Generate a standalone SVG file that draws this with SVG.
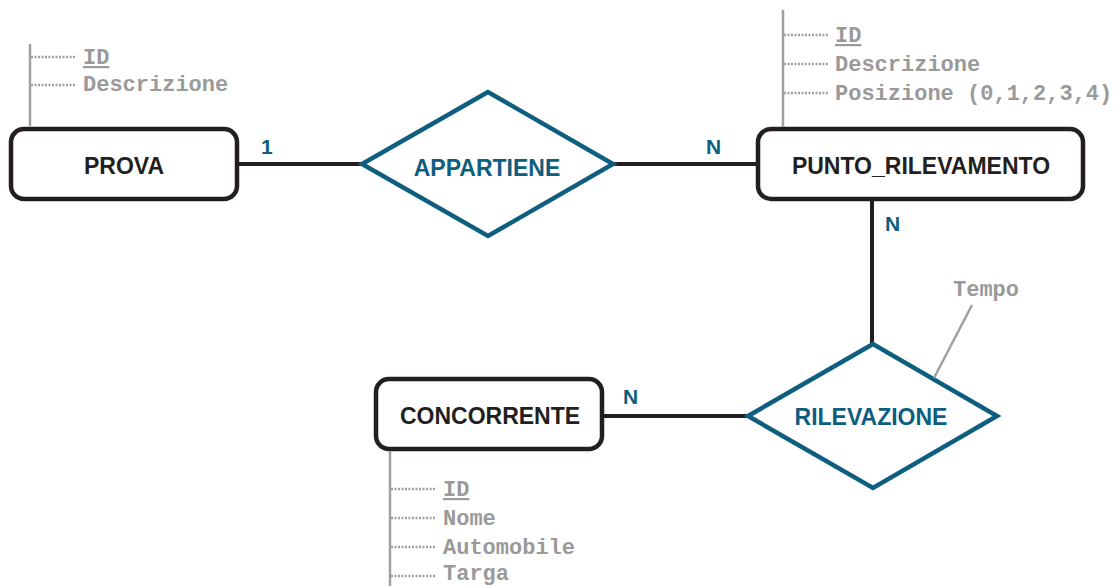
<svg xmlns="http://www.w3.org/2000/svg" width="1115" height="586" viewBox="0 0 1115 586">
<style>
.ent{fill:#fff;stroke:#231f20;stroke-width:4.5}
.rel{fill:#fff;stroke:#0e5e80;stroke-width:4.5;stroke-linejoin:miter}
.conn{stroke:#231f20;stroke-width:4;fill:none}
.et{font-family:"Liberation Sans",Arial,sans-serif;font-weight:bold;font-size:23px;fill:#231f20;text-anchor:middle}
.rt{font-family:"Liberation Sans",Arial,sans-serif;font-weight:bold;font-size:23px;fill:#0e5e80;text-anchor:middle}
.card{font-family:"Liberation Sans",Arial,sans-serif;font-weight:bold;font-size:21px;fill:#0e5e80}
.at{font-family:"Liberation Mono","Courier New",monospace;font-weight:bold;font-size:22px;fill:#9a9a9a}
.vl{stroke:#a0a0a0;stroke-width:2.5;fill:none}
.dl{stroke:#a0a0a0;stroke-width:2.5;stroke-dasharray:2 1.5;fill:none}
</style>
<g id="connectors">
<line class="conn" x1="237" y1="164" x2="362" y2="164"/>
<line class="conn" x1="614" y1="164" x2="758" y2="164"/>
<line class="conn" x1="872" y1="199" x2="872" y2="343"/>
<line class="conn" x1="602" y1="416" x2="747" y2="416"/>
<text class="card" x="261" y="154">1</text>
<text class="card" x="706" y="154">N</text>
<text class="card" x="885" y="231">N</text>
<text class="card" x="623" y="404">N</text>
</g>
<g id="prova">
<rect class="ent" x="11" y="129" width="226" height="70" rx="13"/>
<text class="et" x="124" y="174">PROVA</text>
<path class="vl" d="M30 44V126"/>
<path class="dl" d="M31 57H76M31 85H76"/>
<text class="at" x="83" y="64" text-decoration="underline">ID</text>
<text class="at" x="83" y="91">Descrizione</text>
</g>
<g id="punto_rilevamento">
<rect class="ent" x="758" y="129" width="325" height="70" rx="13"/>
<text class="et" x="921" y="174">PUNTO_RILEVAMENTO</text>
<path class="vl" d="M783 10V127"/>
<path class="dl" d="M784 35H829M784 64H829M784 93H829"/>
<text class="at" x="835" y="42" text-decoration="underline">ID</text>
<text class="at" x="835" y="71">Descrizione</text>
<text class="at" x="835" y="100">Posizione (0,1,2,3,4)</text>
</g>
<g id="concorrente">
<rect class="ent" x="376" y="379" width="226" height="70" rx="13"/>
<text class="et" x="490" y="424">CONCORRENTE</text>
<path class="vl" d="M390 451V586"/>
<path class="dl" d="M391 489H436M391 518H436M391 547H436M391 576H436"/>
<text class="at" x="443" y="496" text-decoration="underline">ID</text>
<text class="at" x="443" y="525">Nome</text>
<text class="at" x="443" y="554">Automobile</text>
<text class="at" x="443" y="580">Targa</text>
</g>
<g id="appartiene">
<polygon class="rel" points="488,92 362,164 488,236 613,164"/>
<text class="rt" x="487" y="176">APPARTIENE</text>
</g>
<g id="rilevazione">
<polygon class="rel" points="873,344 748,416 873,488 997,416"/>
<text class="rt" x="871" y="425">RILEVAZIONE</text>
<line class="vl" x1="972" y1="305" x2="934" y2="378"/>
<text class="at" x="953" y="296">Tempo</text>
</g>
</svg>
